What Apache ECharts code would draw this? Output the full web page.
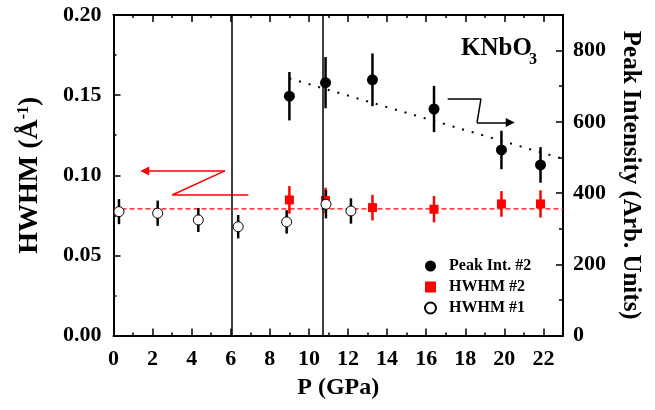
<!DOCTYPE html>
<html>
<head>
<meta charset="utf-8">
<script src="https://cdn.jsdelivr.net/npm/echarts@6/dist/echarts.min.js"></script>
<style>
html, body { margin: 0; padding: 0; background: #fff; }
#main { width: 655px; height: 410px; }
</style>
</head>
<body>
<div id="main"></div>
<script>
// pressure points (GPa)
var pressure1 = [0.28, 2.26, 4.34, 6.38, 8.86, 10.87, 12.15];
var hwhm1 = [0.0773, 0.0763, 0.0721, 0.0679, 0.0709, 0.0819, 0.0777];
var hwhm1Err = [0.0078, 0.0079, 0.0075, 0.0073, 0.0073, 0.0088, 0.0079];

var pressure2 = [9.0, 10.85, 13.25, 16.4, 19.85, 21.85];
var hwhm2 = [0.0846, 0.0842, 0.0798, 0.0788, 0.0821, 0.0821];
var hwhm2Err = [0.0086, 0.0080, 0.0080, 0.0082, 0.0080, 0.0085];
var peakInt = [672, 710, 718, 636, 521, 479];
var peakErr = [68, 72, 74, 65, 54, 50];

// guide lines
var fitX = [9.0, 23];
var fitY = [722, 496];
var hwhmMean = 0.079;
var transitions = [6.05, 10.7];

// arrows (left axis / right axis)
var redArrowX = [6.9, 3.0, 5.7, 1.6];
var redArrowY = [0.0877, 0.0877, 0.1027, 0.1027];
var blackArrowX = [17.1, 18.8, 18.6, 20.3];
var blackArrowY = [664, 664, 598, 598];

var font = 'Liberation Serif';

function pairs(xs, ys) {
    var out = [];
    for (var i = 0; i < xs.length; i++) out.push([xs[i], ys[i]]);
    return out;
}

function errorBars(xs, ys, errs, color, yIdx) {
    var d = [];
    for (var i = 0; i < xs.length; i++) d.push([xs[i], ys[i] - errs[i], ys[i] + errs[i]]);
    return {
        type: 'custom',
        yAxisIndex: yIdx,
        data: d,
        silent: true,
        z: 3,
        encode: {x: 0, y: [1, 2]},
        renderItem: function (params, api) {
            var lo = api.coord([api.value(0), api.value(1)]);
            var hi = api.coord([api.value(0), api.value(2)]);
            return {
                type: 'line',
                shape: {x1: lo[0], y1: lo[1], x2: hi[0], y2: hi[1]},
                style: {stroke: color, lineWidth: 2.5}
            };
        }
    };
}

function arrow(xs, ys, color, yIdx) {
    var n = xs.length;
    return {
        type: 'line',
        yAxisIndex: yIdx,
        data: pairs(xs, ys).slice(0, n - 1),
        symbol: 'none',
        silent: true,
        z: 2,
        lineStyle: {color: color, width: 1.5},
        markLine: {
            silent: true,
            symbol: ['none', 'triangle'],
            symbolSize: 9,
            label: {show: false},
            lineStyle: {color: color, width: 1.5, type: 'solid'},
            data: [[{coord: [xs[n - 2], ys[n - 2]]}, {coord: [xs[n - 1], ys[n - 1]]}]]
        }
    };
}

function xAx(pos, interval, len, line, label) {
    return {
        type: 'value', position: pos, min: 0, max: 23, interval: interval,
        axisLine: {show: line, onZero: false, lineStyle: {color: '#000', width: 2}},
        axisTick: {show: true, inside: true, length: len, lineStyle: {color: '#000', width: 1.5}},
        axisLabel: label ? {
            show: true, margin: 13, color: '#000', fontFamily: font, fontWeight: 'bold', fontSize: 22,
            formatter: function (v) { return v % 2 === 0 ? v : ''; }
        } : {show: false},
        splitLine: {show: false}
    };
}

var myChart = echarts.init(document.getElementById('main'));

var xAxes = [xAx('bottom', 1, 3, true, true), xAx('bottom', 2, 7, false, false),
             xAx('top', 1, 3, true, false), xAx('top', 2, 7, false, false)];
xAxes[0].name = 'P (GPa)';
xAxes[0].nameLocation = 'middle';
xAxes[0].nameGap = 37;
xAxes[0].nameTextStyle = {color: '#000', fontFamily: font, fontWeight: 'bold', fontSize: 24};

var option = {
    animation: false,
    grid: {left: 113.5, right: 92, top: 15, bottom: 74.5},
    xAxis: xAxes,
    yAxis: [
        {
            type: 'value', position: 'left', min: 0, max: 0.2, interval: 0.05,
            name: '{a|HWHM (Å}{s|-1}{a|)}',
            nameLocation: 'middle', nameGap: 70,
            nameTextStyle: {
                color: '#000',
                rich: {
                    a: {fontFamily: font, fontWeight: 'bold', fontSize: 28, color: '#000'},
                    s: {fontFamily: font, fontWeight: 'bold', fontSize: 16, color: '#000', verticalAlign: 'top', padding: [0, 0, 12, 0]}
                }
            },
            axisLine: {onZero: false, lineStyle: {color: '#000', width: 2}},
            axisTick: {inside: true, length: 7, lineStyle: {color: '#000', width: 1.5}},
            minorTick: {show: true, splitNumber: 2, length: 3, lineStyle: {color: '#000', width: 1.5}},
            axisLabel: {
                margin: 12, color: '#000', fontFamily: font, fontWeight: 'bold', fontSize: 22,
                formatter: function (v) { return v.toFixed(2); }
            },
            splitLine: {show: false}
        },
        {
            type: 'value', position: 'right', min: 0, max: 900, interval: 100,
            name: 'Peak Intensity (Arb. Units)',
            nameLocation: 'middle', nameGap: 55, nameRotate: -90,
            nameTextStyle: {color: '#000', fontFamily: font, fontWeight: 'bold', fontSize: 25},
            axisLine: {onZero: false, lineStyle: {color: '#000', width: 2}},
            axisTick: {inside: true, length: 4, lineStyle: {color: '#000', width: 1.5}},
            axisLabel: {
                margin: 10, color: '#000', fontFamily: font, fontWeight: 'bold', fontSize: 22,
                formatter: function (v) { return v % 200 === 0 ? v : ''; }
            },
            splitLine: {show: false}
        },
        {
            type: 'value', position: 'right', min: 0, max: 900, interval: 200,
            axisLine: {show: false, onZero: false},
            axisTick: {inside: true, length: 7, lineStyle: {color: '#000', width: 1.5}},
            axisLabel: {show: false},
            splitLine: {show: false}
        }
    ],
    legend: {
        data: ['Peak Int. #2', 'HWHM #2', 'HWHM #1'],
        orient: 'vertical',
        left: 419, top: 253,
        itemWidth: 11, itemHeight: 11, itemGap: 5,
        selectedMode: false,
        textStyle: {color: '#000', fontFamily: font, fontWeight: 'bold', fontSize: 16, padding: [0, 0, 0, 8]}
    },
    graphic: [
        {type: 'text', x: 461, y: 36, style: {text: 'KNbO', font: 'bold 25px "Liberation Serif"', fill: '#000'}},
        {type: 'text', x: 529, y: 52, style: {text: '3', font: 'bold 16px "Liberation Serif"', fill: '#000'}}
    ],
    series: [
        {
            name: 'mean',
            type: 'line',
            data: [[0, hwhmMean], [23, hwhmMean]],
            symbol: 'none', silent: true, z: 1,
            lineStyle: {color: '#ff0000', width: 1.3, type: [5, 3]},
            markLine: {
                silent: true, symbol: 'none', label: {show: false},
                lineStyle: {color: '#000', width: 1.5, type: 'solid'},
                data: transitions.map(function (t) { return {xAxis: t}; })
            }
        },
        {
            name: 'fit',
            type: 'line',
            yAxisIndex: 1,
            data: pairs(fitX, fitY),
            symbol: 'none', silent: true, z: 1,
            lineStyle: {color: '#000', width: 2, type: [2, 8]}
        },
        arrow(redArrowX, redArrowY, '#ff0000', 0),
        arrow(blackArrowX, blackArrowY, '#000', 1),
        errorBars(pressure2, peakInt, peakErr, '#000', 1),
        errorBars(pressure2, hwhm2, hwhm2Err, '#ff0000', 0),
        errorBars(pressure1, hwhm1, hwhm1Err, '#000', 0),
        {
            name: 'Peak Int. #2',
            type: 'scatter',
            yAxisIndex: 1,
            data: pairs(pressure2, peakInt),
            symbol: 'circle', symbolSize: 11, z: 4,
            itemStyle: {color: '#000', opacity: 1}
        },
        {
            name: 'HWHM #2',
            type: 'scatter',
            data: pairs(pressure2, hwhm2),
            symbol: 'rect', symbolSize: 9, z: 4,
            itemStyle: {color: '#ff0000', opacity: 1}
        },
        {
            name: 'HWHM #1',
            type: 'scatter',
            data: pairs(pressure1, hwhm1),
            symbol: 'circle', symbolSize: 10, z: 5,
            itemStyle: {color: '#fff', borderColor: '#000', borderWidth: 1, opacity: 1}
        }
    ]
};

myChart.setOption(option);
</script>
</body>
</html>
